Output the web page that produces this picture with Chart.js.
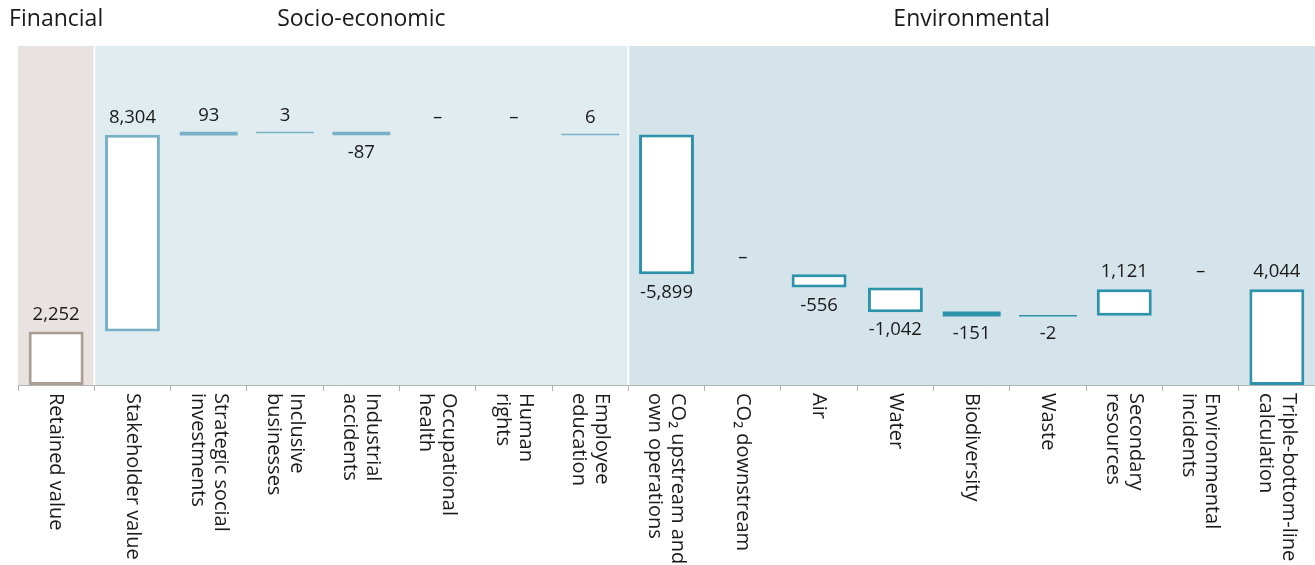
<!DOCTYPE html>
<html>
<head>
<meta charset="utf-8">
<script src="https://cdn.jsdelivr.net/npm/chart.js@4.4.1/dist/chart.umd.min.js"></script>
<style>
  html, body { margin: 0; padding: 0; background: #fff; }
  canvas { display: block; }
</style>
</head>
<body>
<canvas id="tbl" width="1315" height="565"></canvas>
<script>
const categories = [
  ['Retained value'],
  ['Stakeholder value'],
  ['Strategic social', 'investments'],
  ['Inclusive', 'businesses'],
  ['Industrial', 'accidents'],
  ['Occupational', 'health'],
  ['Human', 'rights'],
  ['Employee', 'education'],
  ['CO₂ upstream and', 'own operations'],
  ['CO₂ downstream'],
  ['Air'],
  ['Water'],
  ['Biodiversity'],
  ['Waste'],
  ['Secondary', 'resources'],
  ['Environmental', 'incidents'],
  ['Triple-bottom-line', 'calculation']
];
const values = [2252, 8304, 93, 3, -87, 0, 0, 6, -5899, 0, -556, -1042, -151, -2, 1121, 0, 4044];
const isTotal = [true, false, false, false, false, false, false, false, false, false, false, false, false, false, false, false, true];
const groupNames = ['Financial', 'Socio-economic', 'Environmental'];
const groupOf = [0, 1, 1, 1, 1, 1, 1, 1, 2, 2, 2, 2, 2, 2, 2, 2, 2];

const groupFill = ['#e8e3e0', '#e1ecf1', '#d5e4eb'];
const groupLine = ['#a99d95', '#78b0c6', '#2c93aa'];
const textColor = '#1a1a1a';
const font = '"Open Sans", "Noto Sans", sans-serif';

// running total -> floating bars
let run = 0;
const ranges = values.map((v, i) => {
  if (isTotal[i]) { run = v; return [0, v]; }
  const r = [run, run + v];
  run += v;
  return r;
});
const bases = ranges.map(r => Math.min(r[0], r[1]));
const tops = ranges.map(r => Math.max(r[0], r[1]));
const valueText = values.map(v => v === 0 ? '–' : v.toLocaleString('en-US'));

const boxData = ranges.map((r, i) => Math.abs(values[i]) >= 200 ? r : null);
const lineData = ranges.map((r, i) => values[i] !== 0 && Math.abs(values[i]) < 200 ? r : null);
const colorsBy = arr => groupOf.map(g => arr[g]);

const regions = {
  id: 'regions',
  beforeDraw(chart) {
    const { ctx, chartArea: a, scales: { x } } = chart;
    const half = (x.getPixelForValue(1) - x.getPixelForValue(0)) / 2;
    ctx.save();
    groupNames.forEach((name, g) => {
      const x0 = x.getPixelForValue(groupOf.indexOf(g)) - half;
      const x1 = x.getPixelForValue(groupOf.lastIndexOf(g)) + half;
      ctx.fillStyle = groupFill[g];
      ctx.fillRect(x0, a.top, x1 - x0, a.bottom - a.top);
      if (g > 0) {
        ctx.fillStyle = '#fff';
        ctx.fillRect(x0 - 1, a.top, 2, a.bottom - a.top);
      }
      ctx.fillStyle = textColor;
      ctx.font = '23px ' + font;
      ctx.textAlign = 'center';
      ctx.textBaseline = 'middle';
      ctx.fillText(name, (x0 + x1) / 2, 19);
    });
    ctx.restore();
  }
};

const valueLabels = {
  id: 'valueLabels',
  afterDatasetsDraw(chart) {
    const { ctx, scales: { x, y } } = chart;
    ctx.save();
    ctx.font = '18.5px ' + font;
    ctx.fillStyle = textColor;
    ctx.textAlign = 'center';
    ctx.textBaseline = 'middle';
    values.forEach((v, i) => {
      const px = x.getPixelForValue(i);
      const py = v < 0 ? y.getPixelForValue(bases[i]) + 18 : y.getPixelForValue(tops[i]) - 17;
      ctx.fillText(valueText[i], px, py);
    });
    ctx.restore();
  }
};

const rotatedTicks = {
  id: 'rotatedTicks',
  afterDraw(chart) {
    const { ctx, chartArea: a, scales: { x } } = chart;
    ctx.save();
    ctx.font = '20px ' + font;
    ctx.fillStyle = textColor;
    ctx.textAlign = 'left';
    ctx.textBaseline = 'middle';
    categories.forEach((lines, i) => {
      ctx.save();
      ctx.translate(x.getPixelForValue(i), a.bottom + 8);
      ctx.rotate(Math.PI / 2);
      lines.forEach((t, k) => ctx.fillText(t, 0, (k - (lines.length - 1) / 2) * 23));
      ctx.restore();
    });
    ctx.restore();
  }
};

new Chart(document.getElementById('tbl'), {
  type: 'bar',
  data: {
    labels: categories.map(l => l.join(' ')),
    datasets: [{
      data: boxData,
      backgroundColor: '#fff',
      borderColor: colorsBy(groupLine),
      borderWidth: 3,
      borderSkipped: false,
      grouped: false,
      barPercentage: 0.72,
      categoryPercentage: 1,
      inflateAmount: 0
    }, {
      data: lineData,
      backgroundColor: colorsBy(groupLine),
      borderWidth: 0,
      grouped: false,
      barPercentage: 0.74,
      categoryPercentage: 1,
      inflateAmount: 0.75
    }]
  },
  options: {
    responsive: false,
    animation: false,
    layout: { padding: { left: 18, top: 46, right: 0, bottom: 174 } },
    plugins: { legend: { display: false }, tooltip: { enabled: false } },
    scales: {
      x: {
        grid: { drawOnChartArea: false, drawTicks: true, tickLength: 6, color: '#b3b3b3', offset: true },
        border: { display: true, color: '#b3b3b3' },
        ticks: { display: false }
      },
      y: { display: false, min: 0, max: 14300 }
    }
  },
  plugins: [regions, valueLabels, rotatedTicks]
});
</script>
</body>
</html>
